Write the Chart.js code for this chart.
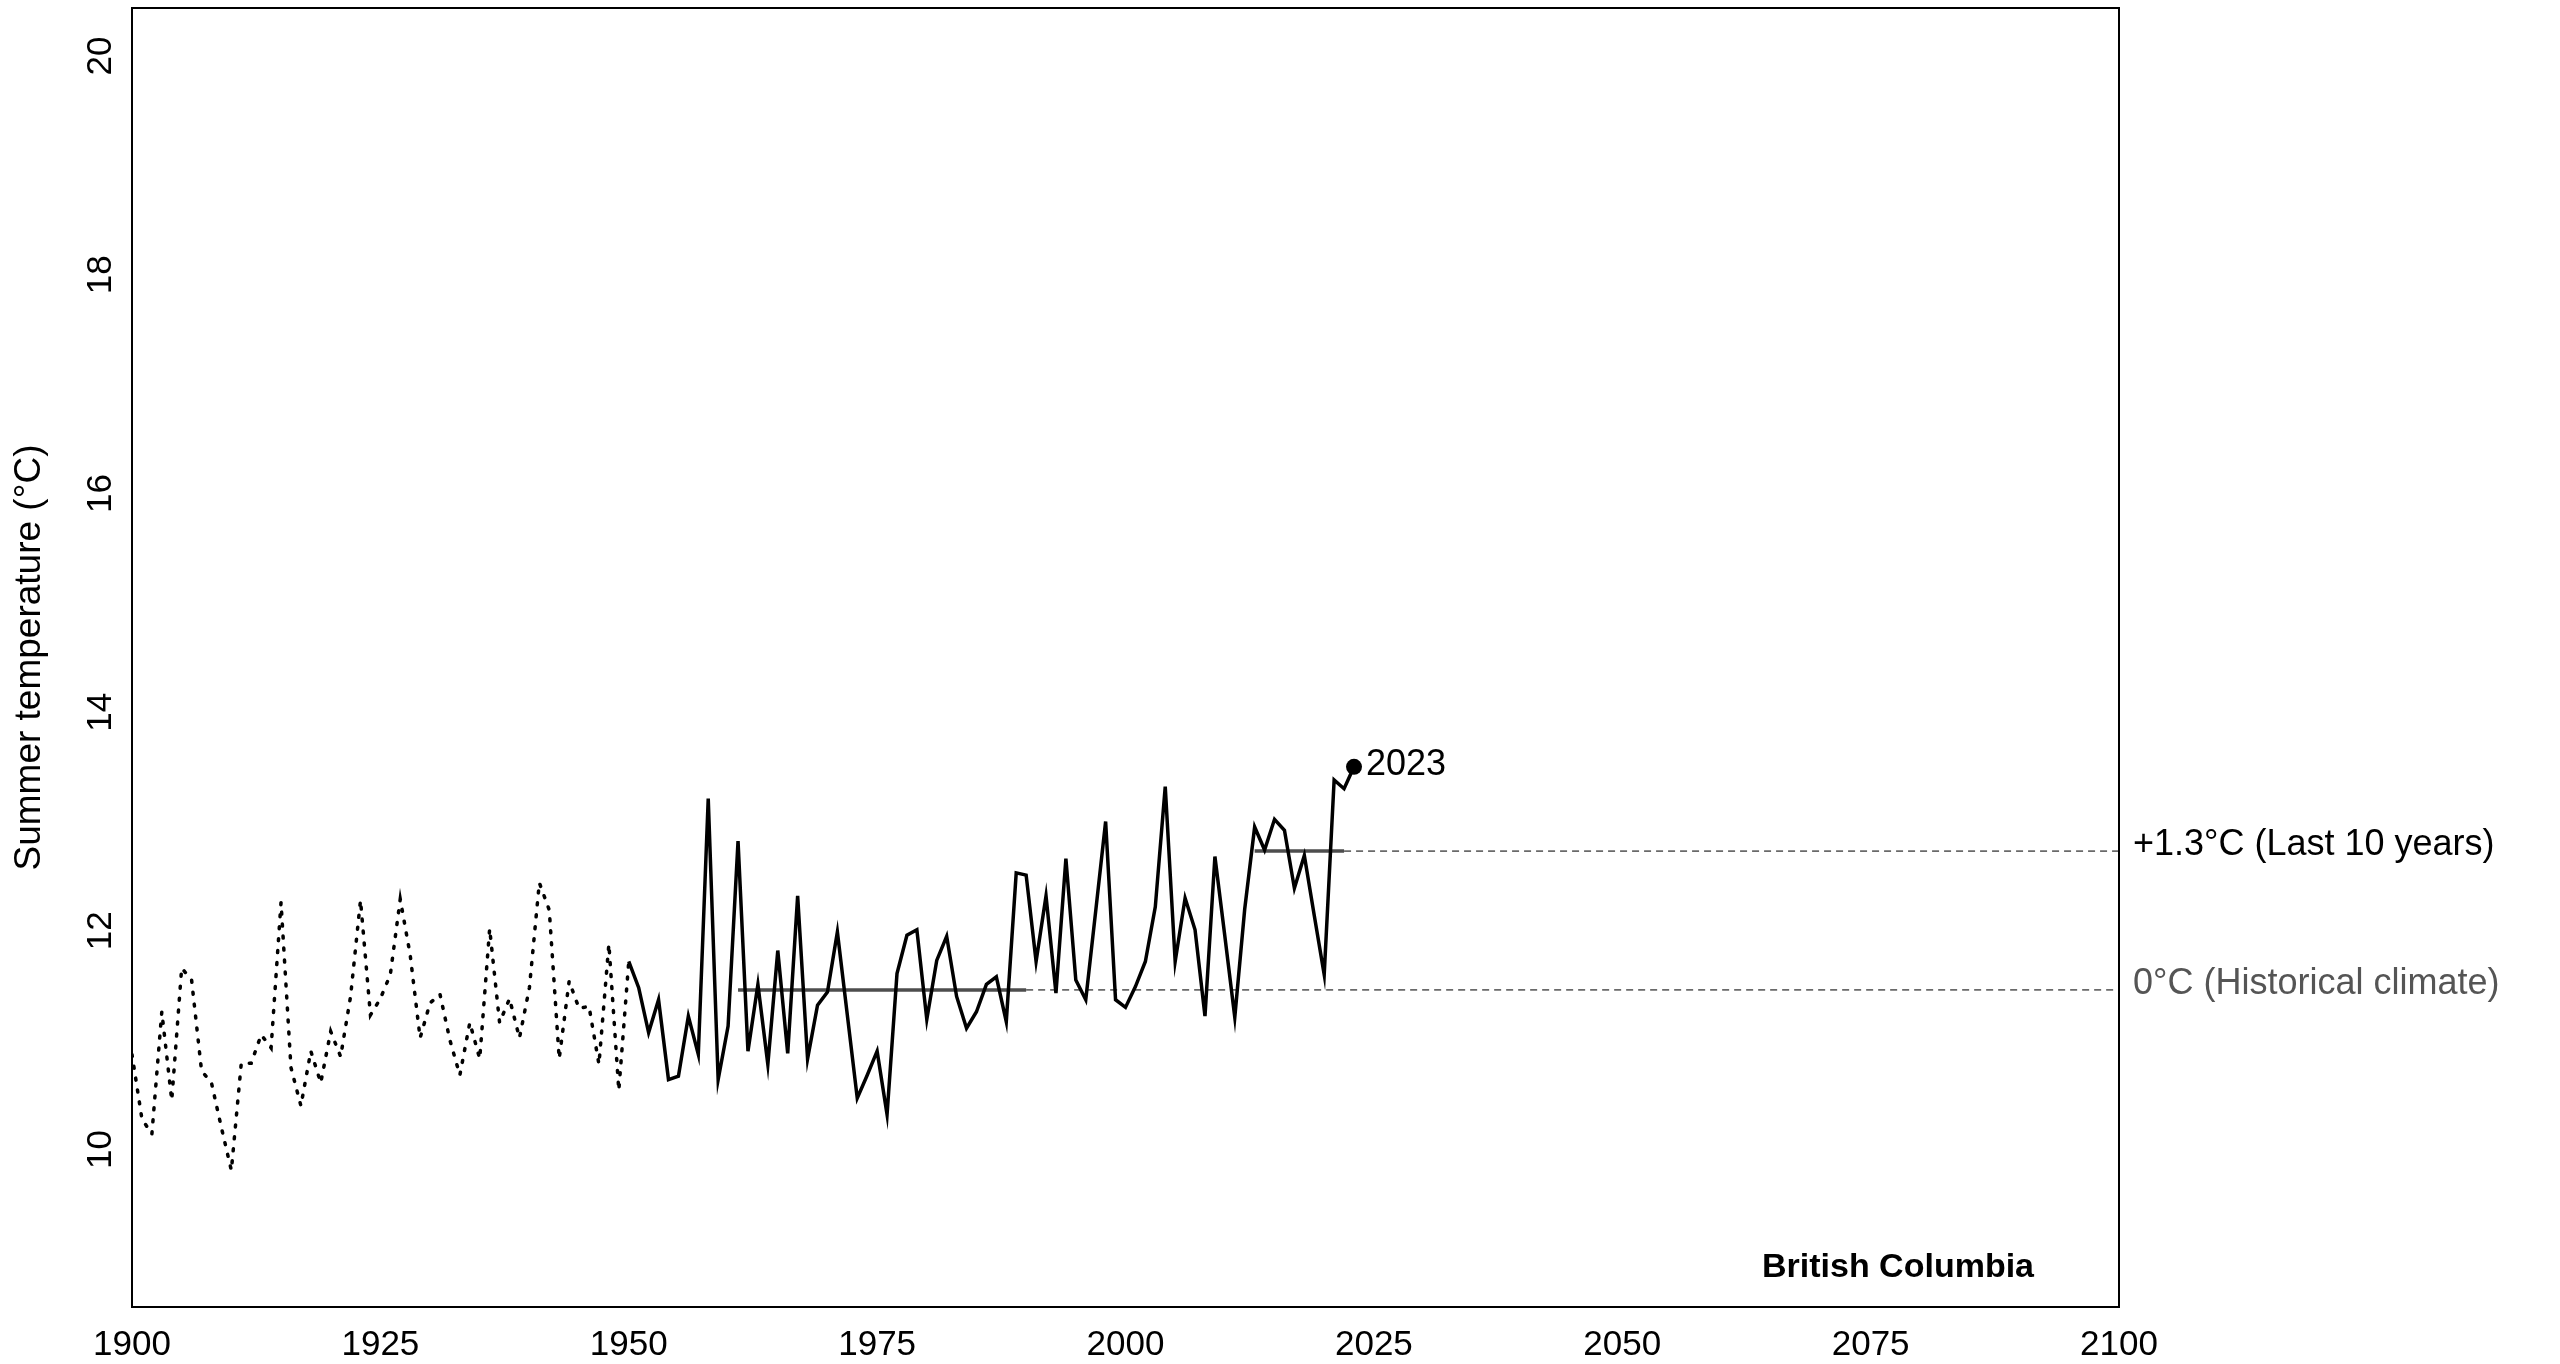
<!DOCTYPE html>
<html>
<head>
<meta charset="utf-8">
<script src="https://cdn.jsdelivr.net/npm/chart.js@4/dist/chart.umd.min.js"></script>
<style>
html,body{margin:0;padding:0;background:#ffffff;}
#wrap{width:2560px;height:1364px;position:relative;}
</style>
</head>
<body>
<div id="wrap"><canvas id="c"></canvas></div>
<script>
// ---- data ----
const yearsDotted = [1900,1901,1902,1903,1904,1905,1906,1907,1908,1909,
  1910,1911,1912,1913,1914,1915,1916,1917,1918,1919,
  1920,1921,1922,1923,1924,1925,1926,1927,1928,1929,
  1930,1931,1932,1933,1934,1935,1936,1937,1938,1939,
  1940,1941,1942,1943,1944,1945,1946,1947,1948,1949,1950];
const tempDotted = [10.87,10.28,10.14,11.26,10.45,11.66,11.55,10.72,10.61,10.20,
  9.81,10.79,10.79,11.05,10.93,12.26,10.75,10.40,10.90,10.61,
  11.08,10.85,11.40,12.28,11.23,11.38,11.60,12.29,11.78,11.02,
  11.34,11.42,11.00,10.68,11.16,10.83,12.02,11.16,11.38,11.02,
  11.48,12.44,12.19,10.83,11.54,11.29,11.31,10.78,11.88,10.54,11.72];

const yearsSolid = [1950,1951,1952,1953,1954,1955,1956,1957,1958,1959,
  1960,1961,1962,1963,1964,1965,1966,1967,1968,1969,
  1970,1971,1972,1973,1974,1975,1976,1977,1978,1979,
  1980,1981,1982,1983,1984,1985,1986,1987,1988,1989,
  1990,1991,1992,1993,1994,1995,1996,1997,1998,1999,
  2000,2001,2002,2003,2004,2005,2006,2007,2008,2009,
  2010,2011,2012,2013,2014,2015,2016,2017,2018,2019,
  2020,2021,2022,2023];
const tempSolid = [11.72,11.48,11.07,11.37,10.64,10.67,11.22,10.87,13.21,10.64,
  11.13,12.82,10.90,11.51,10.78,11.82,10.88,12.32,10.83,11.32,
  11.44,11.99,11.23,10.47,10.68,10.90,10.32,11.61,11.96,12.01,
  11.19,11.73,11.95,11.40,11.11,11.26,11.51,11.58,11.17,12.53,
  12.51,11.72,12.32,11.43,12.66,11.55,11.37,12.18,13.00,11.37,
  11.30,11.49,11.72,12.22,13.32,11.72,12.30,12.01,11.22,12.68,
  11.95,11.21,12.20,12.95,12.74,13.02,12.92,12.39,12.69,12.14,
  11.60,13.38,13.30,13.50];

const lastYear = [2023];
const lastTemp = [13.50];
const lastLabel = "2023";

const historicalYears = [1961, 1990];
const historicalValue = 11.46;
const recentYears = [2013, 2022];
const recentValue = 12.73;

const xTicks = [1900,1925,1950,1975,2000,2025,2050,2075,2100];
const yTicks = [10,12,14,16,18,20];
const xRange = [1900, 2100];
const yRange = [8.56, 20.44];

const yTitle = "Summer temperature (\u00B0C)";
const recentLabel = "+1.3\u00B0C (Last 10 years)";
const historicalLabel = "0\u00B0C (Historical climate)";
const regionLabel = "British Columbia";

// ---- build chart ----
const FONT = '"Liberation Sans", Arial, Helvetica, sans-serif';
const pts = (xs, ys) => xs.map((x, i) => ({x: x, y: ys[i]}));

const textPlugin = {
  id: 'textPlugin',
  afterDraw(chart) {
    const {ctx, chartArea: a, scales} = chart;
    const x = scales.x, y = scales.y;
    ctx.save();
    // frame
    ctx.strokeStyle = '#000';
    ctx.lineWidth = 2;
    ctx.strokeRect(a.left, a.top, a.right - a.left, a.bottom - a.top);

    // x tick labels
    ctx.fillStyle = '#000';
    ctx.font = '35px ' + FONT;
    ctx.textAlign = 'center';
    ctx.textBaseline = 'alphabetic';
    xTicks.forEach(v => ctx.fillText(String(v), x.getPixelForValue(v), a.bottom + 48));

    // y tick labels (rotated)
    yTicks.forEach(v => {
      ctx.save();
      ctx.translate(a.left - 21, y.getPixelForValue(v));
      ctx.rotate(-Math.PI / 2);
      ctx.textAlign = 'center';
      ctx.fillText(String(v), 0, 0);
      ctx.restore();
    });

    // y title
    ctx.save();
    ctx.font = '37px ' + FONT;
    ctx.translate(a.left - 92, (a.top + a.bottom) / 2);
    ctx.rotate(-Math.PI / 2);
    ctx.textAlign = 'center';
    ctx.fillText(yTitle, 0, 0);
    ctx.restore();

    // right-side labels
    ctx.font = '36px ' + FONT;
    ctx.textAlign = 'left';
    ctx.fillStyle = '#000';
    ctx.fillText(recentLabel, a.right + 14, y.getPixelForValue(recentValue) + 4);
    ctx.fillStyle = '#555555';
    ctx.fillText(historicalLabel, a.right + 14, y.getPixelForValue(historicalValue) + 4);

    // 2023 label
    ctx.fillStyle = '#000';
    ctx.fillText(lastLabel, x.getPixelForValue(lastYear[0]) + 12, y.getPixelForValue(lastTemp[0]) + 8);

    // region label
    ctx.font = 'bold 34px ' + FONT;
    ctx.textAlign = 'center';
    ctx.fillText(regionLabel, a.right - 221, a.bottom - 30);
    ctx.restore();
  }
};

new Chart(document.getElementById('c'), {
  type: 'line',
  data: {
    datasets: [
      { data: pts(yearsDotted, tempDotted), borderColor: '#000', borderWidth: 3.5,
        borderDash: [2, 10], borderCapStyle: 'round', pointRadius: 0, tension: 0, order: 0 },
      { data: pts(yearsSolid, tempSolid), borderColor: '#000', borderWidth: 3.5,
        borderJoinStyle: 'miter', pointRadius: 0, tension: 0, order: 0 },
      { type: 'scatter', data: pts(lastYear, lastTemp), pointRadius: 8,
        pointBackgroundColor: '#000', pointBorderColor: '#000', pointBorderWidth: 0, order: 0 },
      { data: [{x: historicalYears[0], y: historicalValue}, {x: historicalYears[1], y: historicalValue}],
        borderColor: '#4d4d4d', borderWidth: 3.5, pointRadius: 0, order: 1 },
      { data: [{x: historicalYears[1], y: historicalValue}, {x: xRange[1], y: historicalValue}],
        borderColor: '#6a6a6a', borderWidth: 1.8, borderDash: [7, 5], pointRadius: 0, order: 1 },
      { data: [{x: recentYears[0], y: recentValue}, {x: recentYears[1], y: recentValue}],
        borderColor: '#4d4d4d', borderWidth: 3.5, pointRadius: 0, order: 1 },
      { data: [{x: recentYears[1], y: recentValue}, {x: xRange[1], y: recentValue}],
        borderColor: '#6a6a6a', borderWidth: 1.8, borderDash: [7, 5], pointRadius: 0, order: 1 }
    ]
  },
  options: {
    responsive: true,
    maintainAspectRatio: false,
    animation: false,
    layout: { padding: { left: 132, right: 441, top: 4, bottom: 57 } },
    plugins: { legend: { display: false }, tooltip: { enabled: false } },
    scales: {
      x: { type: 'linear', min: xRange[0], max: xRange[1], display: false },
      y: { type: 'linear', min: yRange[0], max: yRange[1], display: false }
    }
  },
  plugins: [textPlugin]
});
</script>
</body>
</html>
